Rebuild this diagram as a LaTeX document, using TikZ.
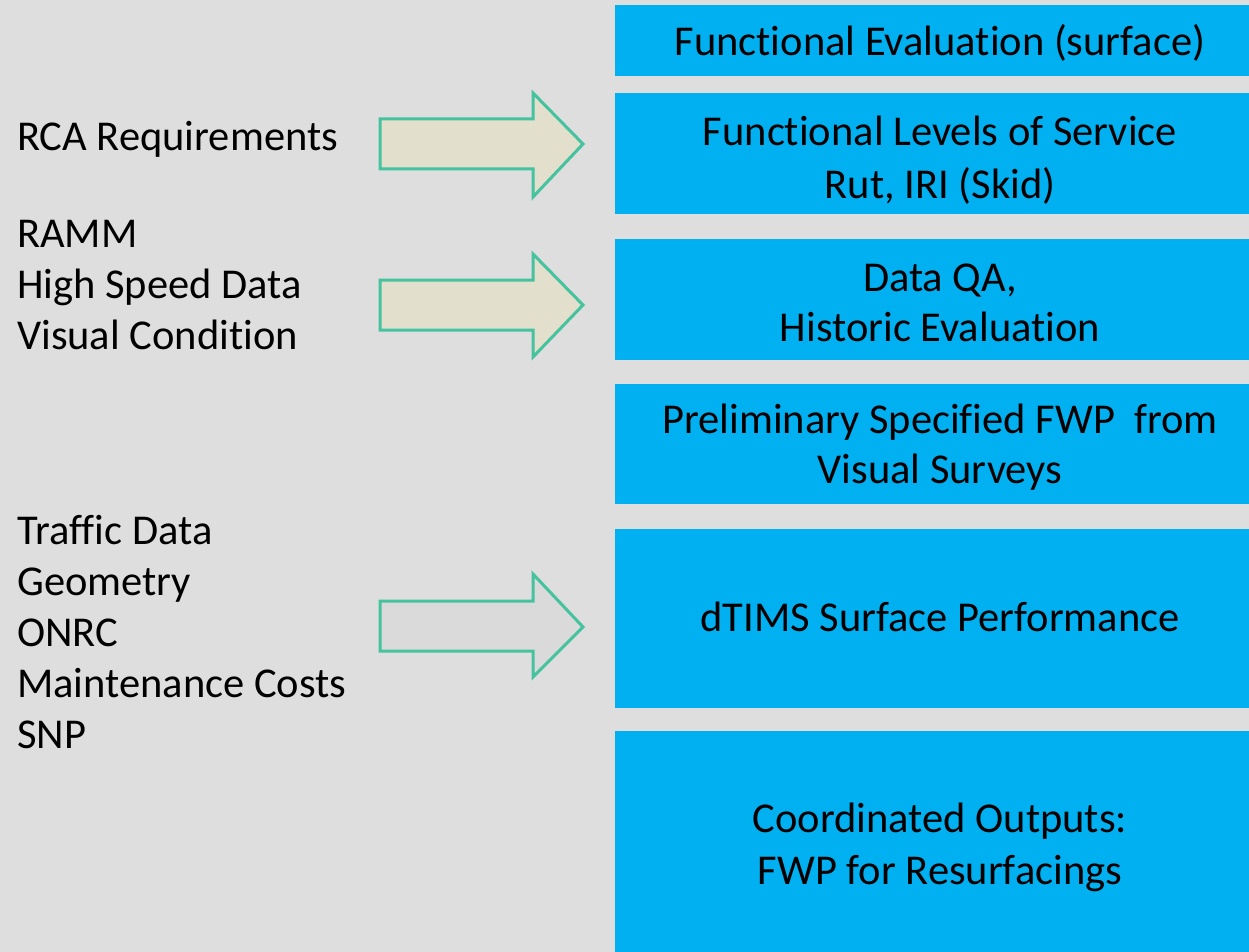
\documentclass[tikz,border=0pt]{standalone}
\usepackage{fontspec}
\setmainfont{Carlito}[Ligatures={NoCommon}]
\definecolor{bg}{HTML}{DEDEDE}
\definecolor{boxblue}{HTML}{00B0F0}
\definecolor{arrgreen}{HTML}{45C29E}
\definecolor{arrbeige}{HTML}{E2DFCC}
\definecolor{arrgray}{HTML}{DADADA}
\tikzset{
  bluebox/.style={fill=boxblue, draw=none},
  boxtext/.style={align=center, font=\fontsize{42.5}{50}\selectfont, text=black, inner sep=0pt},
  lefttext/.style={align=left, font=\fontsize{42.5}{51}\selectfont, text=black, inner sep=0pt, anchor=west},
  blockarrow/.style={draw=arrgreen, line width=3pt, line join=miter}
}
\begin{document}
\begin{tikzpicture}[x=1pt,y=-1pt]
\fill[bg] (0,0) rectangle (1249,952);
\useasboundingbox (0,0) rectangle (1249,952);
% boxes
\fill[bluebox] (615,5) rectangle (1249,76);
\fill[bluebox] (615,93) rectangle (1249,214);
\fill[bluebox] (615,239) rectangle (1249,360);
\fill[bluebox] (615,384) rectangle (1249,504);
\fill[bluebox] (615,529) rectangle (1249,708);
\fill[bluebox] (615,731) rectangle (1249,952);
% box texts
\node[boxtext] (b1) at (940,43) {Functional Evaluation (surface)};
\node[boxtext, font=\fontsize{42.5}{53}\selectfont] (b2) at (940,160) {Functional Levels of Service\\Rut, IRI (Skid)};
\node[boxtext] (b3) at (940,302.5) {Data QA,\\Historic Evaluation};
\node[boxtext] (b4) at (940,447.5) {Preliminary Specified FWP\ \ from\\Visual Surveys};
\node[boxtext] (b5) at (940,617) {dTIMS Surface Performance};
\node[boxtext, font=\fontsize{42.5}{52}\selectfont] (b6) at (940,847) {Coordinated Outputs:\\FWP for Resurfacings};
% left texts
\node[lefttext] (l1) at (17,139) {RCA Requirements};
\node[lefttext] (l2) at (17,285) {RAMM\\High Speed Data\\Visual Condition};
\node[lefttext] (l3) at (17,632.5) {Traffic Data\\Geometry\\ONRC\\Maintenance Costs\\SNP};
% arrows
\draw[blockarrow, fill=arrbeige] (380,119) -- (533,119) -- (533,93) -- (583,144) -- (533,197) -- (533,169) -- (380,169) -- cycle;
\draw[blockarrow, fill=arrbeige] (380,280) -- (533,280) -- (533,254) -- (583,305) -- (533,357) -- (533,330) -- (380,330) -- cycle;
\draw[blockarrow, fill=arrgray] (380,601) -- (533,601) -- (533,574) -- (583,627) -- (533,677) -- (533,651) -- (380,651) -- cycle;
\end{tikzpicture}
\end{document}
